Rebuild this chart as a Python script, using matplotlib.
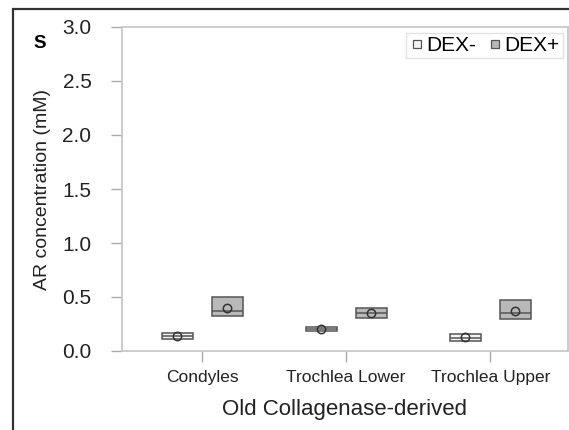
import matplotlib
matplotlib.use("Agg")
import matplotlib.pyplot as plt
from matplotlib.patches import Rectangle
from matplotlib.lines import Line2D

plt.rcParams['font.family'] = ['Liberation Sans', 'DejaVu Sans']

categories = ["Condyles", "Trochlea Lower", "Trochlea Upper"]
groups = ["DEX-", "DEX+"]
# box stats per group: q1, median, q3, mean
dexm_q1 = [0.111, 0.188, 0.096]
dexm_med = [0.138, 0.204, 0.125]
dexm_q3 = [0.164, 0.22, 0.155]
dexm_mean = [0.139, 0.200, 0.127]
dexp_q1 = [0.327, 0.309, 0.293]
dexp_med = [0.37, 0.352, 0.349]
dexp_q3 = [0.497, 0.395, 0.472]
dexp_mean = [0.40, 0.355, 0.373]
yticks = [0.0, 0.5, 1.0, 1.5, 2.0, 2.5, 3.0]

W, H = 569, 430
fig = plt.figure(figsize=(W / 100, H / 100), dpi=100)
ax = fig.add_axes([122 / W, 1 - 351 / H, (568 - 122) / W, (351 - 27) / H])

face = {"DEX-": "#f4f4f4", "DEX+": "#b9b9b9"}
edge = "#555555"
offset = 0.174
width = 0.215

def stats(q1, med, q3, mean):
    out = []
    for a, b, c, d in zip(q1, med, q3, mean):
        out.append(dict(q1=a, med=b, q3=c, mean=d, whislo=a, whishi=c, fliers=[]))
    return out

for g, (q1, med, q3, mean), sgn in [("DEX-", (dexm_q1, dexm_med, dexm_q3, dexm_mean), -1),
                                    ("DEX+", (dexp_q1, dexp_med, dexp_q3, dexp_mean), 1)]:
    pos = [i + sgn * offset for i in range(len(categories))]
    ax.bxp(stats(q1, med, q3, mean), positions=pos, widths=width, patch_artist=True,
           showmeans=True, showcaps=False,
           boxprops=dict(facecolor=face[g], edgecolor=edge, linewidth=1.1),
           medianprops=dict(color=edge, linewidth=1.1),
           whiskerprops=dict(color=edge, linewidth=0),
           meanprops=dict(marker='o', markerfacecolor='none', markeredgecolor='#333333',
                          markersize=6, markeredgewidth=1.1))

ax.set_xlim(-0.556, 2.54)
ax.set_ylim(0, 3.0)
ax.set_yticks(yticks)
ax.set_yticklabels([f"{v:.1f}" for v in yticks], fontsize=15, color="#222222")
ax.set_xticks(range(len(categories)))
ax.set_xticklabels(categories, fontsize=12.5, color="#222222")
ax.tick_params(axis='both', direction='out', length=8, width=1, color="#aaaaaa")
ax.tick_params(axis='y', pad=14)
ax.tick_params(axis='x', pad=6)
for s in ax.spines.values():
    s.set_color("#c8c8c8")
    s.set_linewidth(1.3)

ax.set_ylabel("AR concentration (mM)", fontsize=14, color="#222222", labelpad=8)
ax.set_xlabel("Old Collagenase-derived", fontsize=16, color="#222222", labelpad=10)

handles = [Line2D([], [], marker='s', linestyle='none', markersize=5.5,
                  markerfacecolor=face[g], markeredgecolor=edge, markeredgewidth=0.9)
           for g in groups]
leg = fig.legend(handles, groups, loc='upper right', bbox_to_anchor=(563 / W, 1 - 33 / H),
                 ncol=2, fontsize=15, frameon=True, fancybox=False, borderaxespad=0,
                 handletextpad=0.05, columnspacing=0.5, handlelength=0.8, borderpad=0.15)
leg.get_frame().set_edgecolor("#dddddd")
leg.get_frame().set_linewidth(1.0)

fig.text(40 / W, 1 - 43 / H, "S", fontsize=13.5, fontweight='bold', ha='center', va='center')

fig.patches.append(Rectangle((13 / W, -0.1), 1.2, 1 - 9 / H + 0.1, transform=fig.transFigure,
                             fill=False, edgecolor="#333333", linewidth=1.6))

fig.savefig("out.png", dpi=100)
